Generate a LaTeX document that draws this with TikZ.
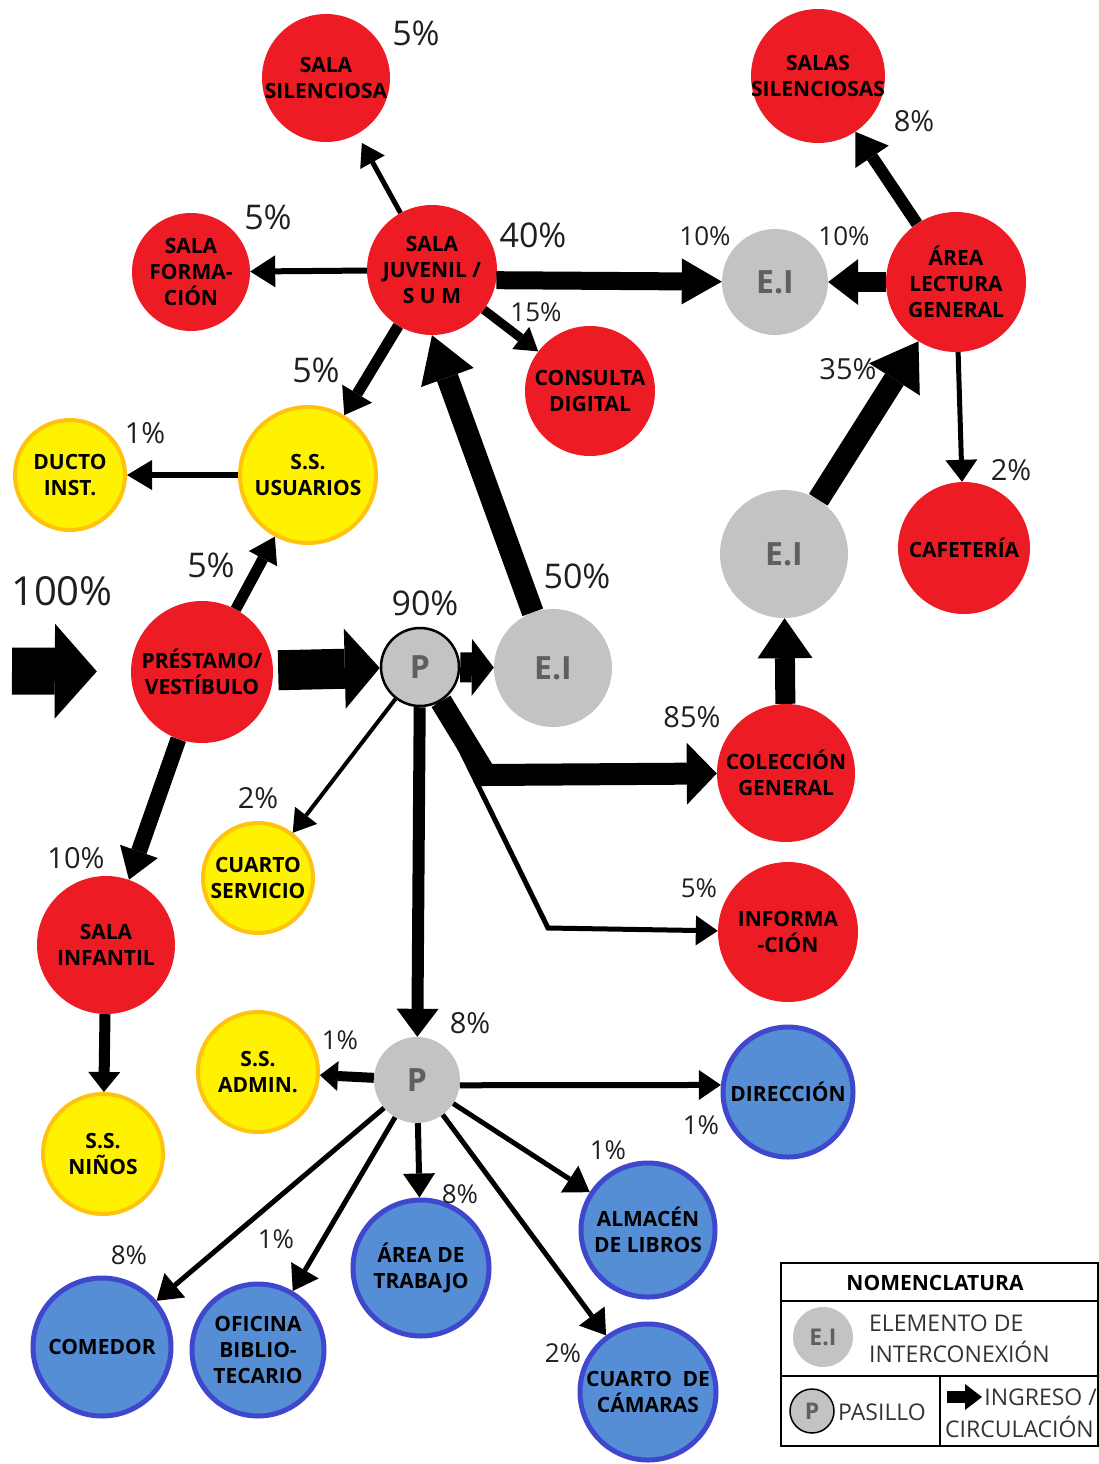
\documentclass[tikz,border=0pt]{standalone}
\usepackage{fontspec}
\setmainfont{Open Sans}
\usepackage{tikz}
\usetikzlibrary{arrows.meta}

\definecolor{rojo}{HTML}{ED1C24}
\definecolor{amarillo}{HTML}{FFF200}
\definecolor{naranja}{HTML}{FFC20E}
\definecolor{gris}{HTML}{C3C3C3}
\definecolor{grisosc}{HTML}{5F5F5F}
\definecolor{azul}{HTML}{558ED5}
\definecolor{azulborde}{HTML}{3F48CC}

\newcommand\roomfont{\fontsize{21}{26}\selectfont\bfseries}
\newcommand\eifont{\fontsize{32}{32}\selectfont\bfseries}
\newcommand\legfont{\fontsize{23}{31}\selectfont}

\begin{document}
\begin{tikzpicture}[
      x=1pt, y=-1pt,
      room/.style={circle, inner sep=-20pt, align=center, font=\roomfont, text=black, minimum size=#1},
      redroom/.style={room=#1, fill=rojo},
      yellowroom/.style={room=#1, fill=amarillo, draw=naranja, line width=4pt},
      blueroom/.style={room=#1, fill=azul, draw=azulborde, line width=5pt},
      link/.style={circle, fill=gris, text=grisosc, font=\eifont, minimum size=#1, inner sep=0pt},
      hall/.style={link=#1, draw=black, line width=2.5pt},
      flow/.style n args={3}{draw=black, line width=#1pt, -{Triangle[length=#2pt, width=#3pt, line width=0pt]}},
      pct/.style={font=\fontsize{#1}{#1}\selectfont, text=black!88},
      legtext/.style={font=\legfont, text=black!80, inner sep=0pt}
  ]
      \useasboundingbox (0,0) rectangle (1099,1464);

      % Rooms
      \node[redroom=128] (sil)  at (326,78)   {SALA\\SILENCIOSA};
      \node[redroom=134] (sils) at (818,76)   {SALAS\\SILENCIOSAS};
      \node[redroom=118] (form) at (191,272)  {SALA\\FORMA-\\CIÓN};
      \node[redroom=130] (juv)  at (432,270)  {SALA\\JUVENIL /\\S U M};
      \node[redroom=140] (lect) at (956,282)  {ÁREA\\LECTURA\\GENERAL};
      \node[redroom=130] (cons) at (590,391)  {CONSULTA\\DIGITAL};
      \node[redroom=132] (caf)  at (964,548)  {CAFETERÍA};
      \node[redroom=142] (pres) at (202,672)  {PRÉSTAMO/\\VESTÍBULO};
      \node[redroom=138] (col)  at (786,773)  {COLECCIÓN\\GENERAL};
      \node[redroom=138] (inf)  at (106,945)  {SALA\\INFANTIL};
      \node[redroom=140] (info) at (788,932)  {INFORMA\\-CIÓN};

      \node[yellowroom=110] (ducto) at (70,475)   {DUCTO\\INST.};
      \node[yellowroom=136] (usu)   at (308,475)  {S.S.\\USUARIOS};
      \node[yellowroom=110] (serv)  at (258,878)  {CUARTO\\SERVICIO};
      \node[yellowroom=120] (adm)   at (258,1072) {S.S.\\ADMIN.};
      \node[yellowroom=120] (ninos) at (103,1154) {S.S.\\NIÑOS};

      \node[blueroom=130] (dir)  at (788,1092) {DIRECCIÓN};
      \node[blueroom=136] (trab) at (421,1268) {ÁREA DE\\TRABAJO};
      \node[blueroom=134] (alm)  at (648,1230) {ALMACÉN\\DE LIBROS};
      \node[blueroom=138] (com)  at (102,1347) {COMEDOR};
      \node[blueroom=132] (ofi)  at (258,1350) {OFICINA\\BIBLIO-\\TECARIO};
      \node[blueroom=136] (cam)  at (648,1392) {CUARTO\enspace DE\\CÁMARAS};

      % Interconnection elements and halls
      \node[link=106] (eia) at (775,282) {E.I};
      \node[link=128] (eib) at (784,554) {E.I};
      \node[link=118] (eic) at (553,668) {E.I};
      \node[hall=78]  (pa)  at (420,667) {P};
      \node[link=86]  (pb)  at (417,1080) {P};

      % Bends and free ends
      \coordinate (kin)  at (12,671);
      \coordinate (kinf) at (548,928);
      \coordinate (kcol) at (486,775);

      % Circulation
      \draw[flow={47}{42}{95}, shorten >=34pt] (kin) -- (pres);
      \draw[flow={40}{35}{80}, shorten <=5pt] (pres) -- (pa);
      \draw[flow={30}{22}{57}] (pa) -- (eic);
      \draw[flow={22}{45}{56}] (eic) -- (juv.south);
      \draw[flow={18}{40}{46}] (juv.-9) -- (eia);
      \draw[flow={20}{30}{46}] (lect) -- (eia);
      \draw[flow={6}{25}{32}] (juv) -- (form);
      \draw[flow={5}{22}{28}, shorten >=10pt] (juv) -- (sil);
      \draw[flow={9}{22}{28}] (juv) -- (cons);
      \draw[flow={11}{25}{35}] (juv) -- (usu);
      \draw[flow={6}{25}{30}] (usu) -- (ducto);
      \draw[flow={11}{25}{32}] (pres) -- (usu);
      \draw[flow={16}{30}{40}] (pres) -- (inf);
      \draw[flow={11}{20}{32}] (inf) -- (ninos);
      \draw[flow={4}{22}{28}] (pa) -- (serv);
      \draw[flow={5}{22}{30}] (pa) -- (kinf) -- (info);
      \draw[flow={22}{30}{62}] (pa) -- (kcol) -- (col);
      \draw[flow={12}{28}{42}] (pa) -- (pb);
      \draw[flow={10}{18}{30}] (pb) -- (adm);
      \draw[flow={6}{22}{30}] (pb.-7) -- (dir.174);
      \draw[flow={5}{24}{32}] (pb) -- (alm);
      \draw[flow={5}{24}{32}] (pb) -- (cam);
      \draw[flow={6}{24}{32}] (pb) -- (trab);
      \draw[flow={5}{24}{32}] (pb) -- (ofi);
      \draw[flow={5}{24}{32}] (pb) -- (com);
      \draw[flow={20}{40}{55}] (col) -- (eib);
      \draw[flow={22}{45}{60}] (eib) -- (lect);
      \draw[flow={12}{30}{40}] (lect) -- (sils);
      \draw[flow={5}{22}{32}] (lect) -- (caf);

      % Percentages
      \node[pct=40] (p100)  at (62,591)   {100\%};
      \node[pct=34] (psil)  at (416,33)   {5\%};
      \node[pct=34] (pform) at (268,217)  {5\%};
      \node[pct=34] (pjuv)  at (533,235)  {40\%};
      \node[pct=34] (pusu)  at (316,370)  {5\%};
      \node[pct=34] (pres5) at (211,565)  {5\%};
      \node[pct=34] (ppa)   at (425,603)  {90\%};
      \node[pct=34] (peic)  at (577,576)  {50\%};
      \node[pct=29] (psils) at (914,121)  {8\%};
      \node[pct=29] (plect) at (848,369)  {35\%};
      \node[pct=29] (pduct) at (145,433)  {1\%};
      \node[pct=29] (pcaf)  at (1011,470) {2\%};
      \node[pct=29] (pcol)  at (692,717)  {85\%};
      \node[pct=29] (pserv) at (258,798)  {2\%};
      \node[pct=29] (pinf)  at (76,858)   {10\%};
      \node[pct=29] (ppb)   at (470,1023) {8\%};
      \node[pct=26] (pcons) at (536,312)  {15\%};
      \node[pct=26] (peia)  at (705,236)  {10\%};
      \node[pct=26] (peib)  at (844,236)  {10\%};
      \node[pct=26] (pinfo) at (699,888)  {5\%};
      \node[pct=26] (padm)  at (340,1040) {1\%};
      \node[pct=26] (pdir)  at (701,1125) {1\%};
      \node[pct=26] (palm)  at (608,1150) {1\%};
      \node[pct=26] (ptrab) at (460,1194) {8\%};
      \node[pct=26] (pofi)  at (276,1239) {1\%};
      \node[pct=26] (pcom)  at (129,1255) {8\%};
      \node[pct=26] (pcam)  at (563,1353) {2\%};

      % Legend
      \draw[line width=2.5pt] (781,1263) rectangle (1098,1446);
      \draw[line width=2.5pt] (781,1301) -- (1098,1301);
      \draw[line width=2.5pt] (781,1376) -- (1098,1376);
      \draw[line width=2.5pt] (940,1376) -- (940,1446);
      \node[font=\fontsize{21}{21}\selectfont\bfseries] (leytit) at (935,1283) {NOMENCLATURA};
      \node[link=60, font=\fontsize{23}{23}\selectfont\bfseries] (leyei) at (823,1337) {E.I};
      \node[legtext, anchor=west, align=left] (leyeitxt) at (869,1339) {ELEMENTO DE\\INTERCONEXIÓN};
      \node[hall=44, line width=1.5pt, font=\fontsize{23}{23}\selectfont\bfseries] (leyp) at (812,1411) {P};
      \node[legtext, anchor=west] (leypas) at (838,1412) {PASILLO};
      \coordinate (leyA) at (947,1397);
      \coordinate (leyB) at (982,1397);
      \draw[flow={12}{17}{26}] (leyA) -- (leyB);
      \node[legtext, anchor=east] (leying) at (1097,1397) {INGRESO /};
      \node[legtext, anchor=west] (leycirc) at (945,1427) {CIRCULACIÓN};
  \end{tikzpicture}
\end{document}
